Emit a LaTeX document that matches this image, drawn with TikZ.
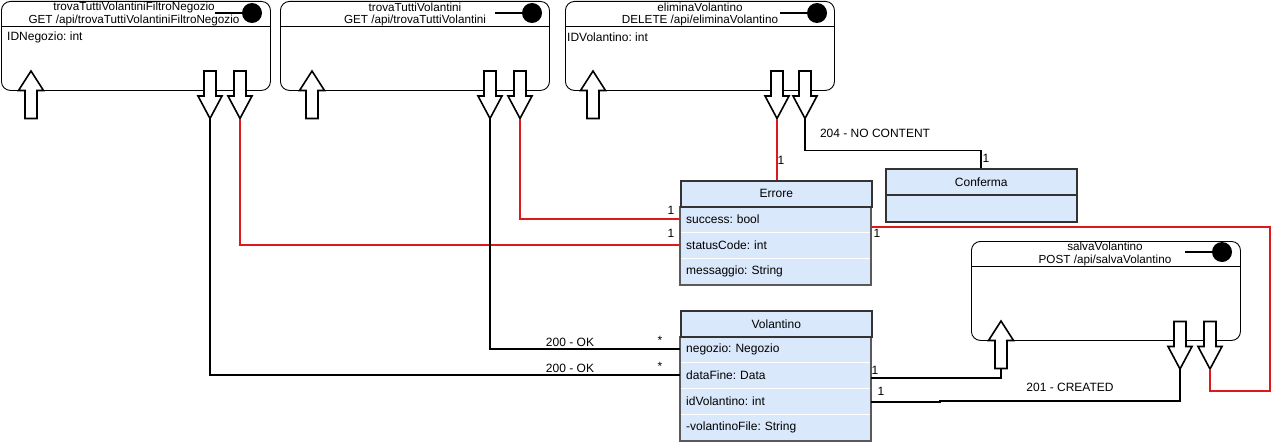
\documentclass[tikz,border=0pt]{standalone}
\usepackage{fontspec}
\setmainfont{Liberation Sans}
\usetikzlibrary{calc}
\definecolor{clsfill}{HTML}{DAE8FC}
\definecolor{clsedge}{HTML}{5A5A5A}
\definecolor{clshead}{HTML}{333333}
\definecolor{redline}{HTML}{E01818}
\frenchspacing
\begin{document}
\begin{tikzpicture}[x=1pt,y=-1pt,
  font=\fontsize{12}{14}\selectfont,
  apibox/.style={draw=black, line width=0.9pt, rounded corners=9pt, fill=white,
    anchor=north west, inner sep=0pt, minimum width=269pt},
  titletext/.style={font=\fontsize{11.7}{14}\selectfont, inner sep=0pt},
  attrtext/.style={anchor=west, inner sep=0pt},
  clshd/.style={draw=clshead, line width=1.5pt, fill=clsfill, anchor=north west,
    inner sep=0pt, minimum width=191pt, minimum height=26pt},
  clsrow/.style={fill=clsfill, anchor=north west, inner xsep=6pt, inner ysep=0pt,
    text width=179pt, align=left, minimum height=26pt},
  blk/.style={draw=black, line width=1.6pt},
  red/.style={draw=redline, line width=1.6pt},
  lbl/.style={inner sep=0pt},
  uparr/.pic={\draw[line width=1.6pt, fill=white, line join=miter]
     (0,0) -- (12.5,19.5) -- (6,19.5) -- (6,47.5) -- (-6,47.5) -- (-6,19.5) -- (-12.5,19.5) -- cycle;},
  dnarr/.pic={\draw[line width=1.6pt, fill=white, line join=miter]
     (0,0) -- (12,-22.5) -- (6,-22.5) -- (6,-47.5) -- (-6,-47.5) -- (-6,-22.5) -- (-12,-22.5) -- cycle;},
  dotpin/.pic={\draw[line width=1.8pt] (-37,0) -- (0,0); \fill (0,0) circle (10pt);}
]
\useasboundingbox (0,0) rectangle (1273,444);

% ---------- API boxes ----------
\node[apibox, minimum height=89pt] (b1) at (1,1) {};
\node[apibox, minimum height=89pt] (b2) at (280,1) {};
\node[apibox, minimum height=89pt] (b3) at (565,1) {};
\node[apibox, minimum height=99pt] (b4) at (971,241) {};
\foreach \b in {b1,b2,b3}{
  \draw[line width=0.9pt] ($(\b.north west)+(0,25)$) -- ($(\b.north east)+(0,25)$);
}
\draw[line width=0.9pt] ($(b4.north west)+(0,25)$) -- ($(b4.north east)+(0,25)$);

\node[titletext] (t1a) at (134,7) {trovaTuttiVolantiniFiltroNegozio};
\node[titletext] (t1b) at (134,20.5) {GET /api/trovaTuttiVolantiniFiltroNegozio};
\node[titletext] (t2a) at (415,7) {trovaTuttiVolantini};
\node[titletext] (t2b) at (415,20.5) {GET /api/trovaTuttiVolantini};
\node[titletext] (t3a) at (700,7) {eliminaVolantino};
\node[titletext] (t3b) at (700,20.5) {DELETE /api/eliminaVolantino};
\node[titletext] (t4a) at (1105,246) {salvaVolantino};
\node[titletext] (t4b) at (1105,260.5) {POST /api/salvaVolantino};

\node[attrtext] (p1) at (7,37) {IDNegozio: int};
\node[attrtext] (p3) at (567,37) {IDVolantino: int};

\pic at (252,13) {dotpin};
\pic at (532,13) {dotpin};
\pic at (817,13) {dotpin};
\pic at (1222,252) {dotpin};

% ---------- block arrows ----------
\pic at (31,71) {uparr};
\pic at (312,71) {uparr};
\pic at (593,71) {uparr};
\pic at (1001,321) {uparr};
\pic at (210,118.5) {dnarr};
\pic at (240,118.5) {dnarr};
\pic at (490,118.5) {dnarr};
\pic at (520,118.5) {dnarr};
\pic at (777,118.5) {dnarr};
\pic at (805,118.5) {dnarr};
\pic at (1180,369) {dnarr};
\pic at (1210,369) {dnarr};

\coordinate (a1d1) at (210,118.5);
\coordinate (a1d2) at (240,118.5);
\coordinate (a2d1) at (490,118.5);
\coordinate (a2d2) at (520,118.5);
\coordinate (a3d1) at (777,118.5);
\coordinate (a3d2) at (805,118.5);
\coordinate (a4u)  at (1001,368.5);
\coordinate (a4d1) at (1180,369);
\coordinate (a4d2) at (1210,369);

% ---------- classes ----------
% Errore
\node[clsrow] (es) at (680,206) {success: bool};
\node[clsrow] (ec) at (680,232) {statusCode: int};
\node[clsrow] (em) at (680,258) {messaggio: String};
\draw[white, line width=0.8pt] (680,232) -- (871,232) (680,258) -- (871,258);
\draw[clsedge, line width=1.5pt] (680,206) -- (680,285) -- (871,285) -- (871,206);
\node[clshd] (err) at (680,180) {Errore};

% Conferma
\node[clshd] (conf) at (885,168) {Conferma};
\node[clshd, minimum height=27pt] (confb) at (885,194) {};

% Volantino
\node[clsrow] (vn) at (680,336) {negozio: Negozio};
\node[clsrow] (vd) at (680,362) {dataFine: Data};
\node[clsrow] (vi) at (680,388) {idVolantino: int};
\node[clsrow] (vf) at (680,414) {-volantinoFile: String};
\draw[white, line width=0.8pt] (680,362) -- (871,362) (680,388) -- (871,388) (680,414) -- (871,414);
\draw[clsedge, line width=1.5pt] (680,336) -- (680,441) -- (871,441) -- (871,336);
\node[clshd] (vol) at (680,310) {Volantino};

% ---------- connectors ----------
\draw[blk] (a1d1) |- (vd.west);
\draw[red] (a1d2) |- (ec.west);
\draw[blk] (a2d1) |- (vn.west);
\draw[red] (a2d2) |- (es.west);
\draw[red] (a3d1) -- (err.north -| a3d1);
\draw[blk] (a3d2) -- ++(0,32) -| (conf.north);

\coordinate (eR) at (871,227);
\coordinate (cR) at (1270,391);
\draw[red] (eR) -| (cR) -| (a4d2);

\coordinate (vR1) at (871,378);
\coordinate (vR2) at (871,402);
\draw[blk] (vR1) -| (a4u);
\draw[blk] (vR2) -- (940,402) -- (940,401) -| (a4d1);

% ---------- labels ----------
\node[lbl] (l1) at (570,342) {200 - OK};
\node[lbl] (l2) at (660,340) {*};
\node[lbl] (l3) at (570,368) {200 - OK};
\node[lbl] (l4) at (660,366) {*};
\node[lbl] (l5) at (671,210) {1};
\node[lbl] (l6) at (671,233) {1};
\node[lbl] (l7) at (781,160) {1};
\node[lbl] (l8) at (986,158) {1};
\node[lbl] (l9) at (877,233) {1};
\node[lbl] (l10) at (875,370) {1};
\node[lbl] (l11) at (881,391) {1};
\node[lbl] (l12) at (875,133) {204 - NO CONTENT};
\node[lbl] (l13) at (1070,387) {201 - CREATED};
\end{tikzpicture}
\end{document}
